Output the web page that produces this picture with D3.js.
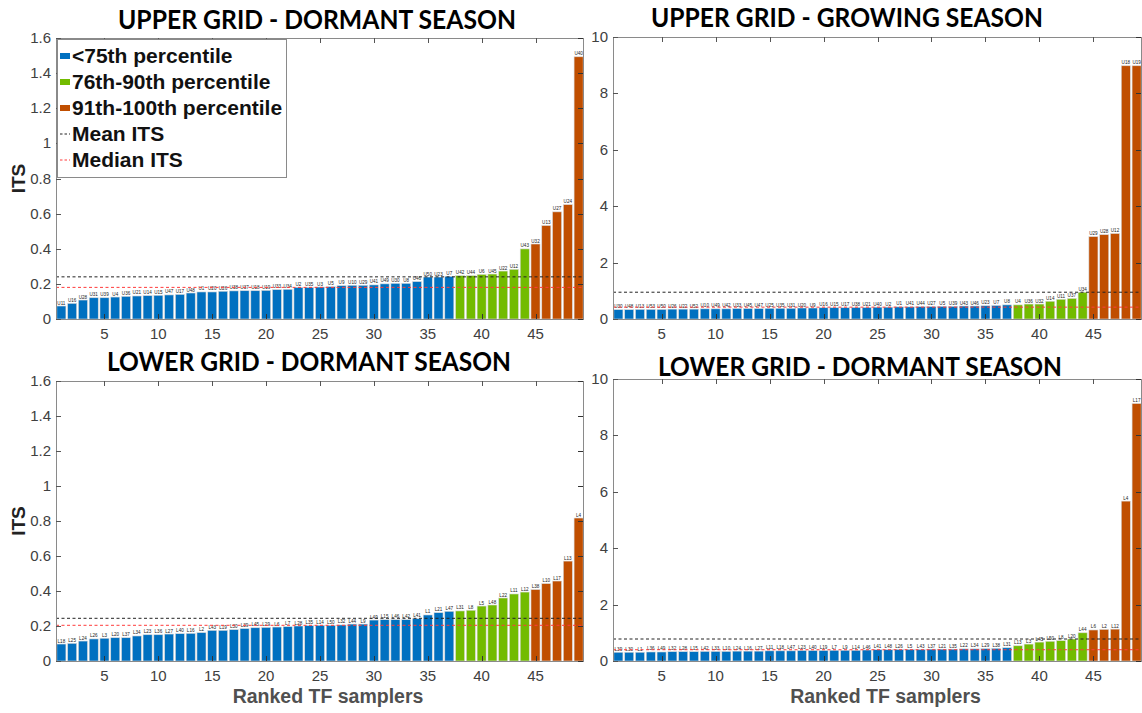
<!DOCTYPE html>
<html>
<head>
<meta charset="utf-8">
<script src="https://cdn.jsdelivr.net/npm/d3@7"></script>
<style>
  html, body { margin: 0; padding: 0; background: #fff; }
  svg { display: block; }
</style>
</head>
<body>
<svg id="chart" width="1142" height="713"></svg>
<script>
// ---- data ----------------------------------------------------------------
const ranks = d3.range(1, 50);               // ranked sampler positions 1..49
const xTickValues = [5, 10, 15, 20, 25, 30, 35, 40, 45];

const tierNames  = ["<75th percentile", "76th-90th percentile", "91th-100th percentile"];
const tierColors = ["#0070C0", "#72BB00", "#C04E00"];
const tierSizes  = [37, 7, 5];               // samplers per percentile class

const panelTitles = [
  "UPPER GRID - DORMANT SEASON",
  "UPPER GRID - GROWING SEASON",
  "LOWER GRID - DORMANT SEASON",
  "LOWER GRID - DORMANT SEASON"
];

const yTicksLeft  = [0, 0.2, 0.4, 0.6, 0.8, 1, 1.2, 1.4, 1.6];
const yTicksRight = [0, 2, 4, 6, 8, 10];

// Upper grid, dormant season
const upperDormantLabels = ["U11","U16","U28","U31","U39","U4","U36","U21","U14","U15",
  "U47","U17","U48","U1","U20","U26","U38","U37","U18","U19",
  "U33","U34","U2","U35","U3","U5","U9","U10","U29","U41",
  "U49","U30","U8","U46","U50","U23","U7","U42","U44","U6",
  "U45","U22","U12","U43","U32","U13","U27","U24","U40"];
const upperDormantITS = [0.074,0.089,0.108,0.121,0.121,0.125,0.129,0.131,0.133,0.135,
  0.137,0.140,0.148,0.154,0.154,0.158,0.160,0.161,0.161,0.163,
  0.167,0.169,0.180,0.180,0.182,0.184,0.190,0.192,0.192,0.194,
  0.200,0.203,0.203,0.213,0.239,0.239,0.243,0.247,0.247,0.254,
  0.256,0.273,0.283,0.399,0.427,0.532,0.610,0.651,1.493];
const upperDormantMean = 0.240;
const upperDormantMedian = 0.180;

// Upper grid, growing season
const upperGrowingLabels = ["U30","U48","U13","U53","U50","U26","U22","U52","U10","U49",
  "U42","U33","U45","U47","U25","U35","U31","U20","U9","U16",
  "U15","U17","U38","U21","U40","U2","U1","U41","U44","U27",
  "U5","U39","U43","U46","U23","U7","U8","U4","U36","U32",
  "U14","U11","U37","U34","U29","U28","U12","U18","U19"];
const upperGrowingITS = [0.33,0.33,0.34,0.34,0.34,0.35,0.35,0.35,0.36,0.36,
  0.36,0.37,0.37,0.37,0.38,0.38,0.38,0.39,0.39,0.40,
  0.40,0.40,0.41,0.41,0.42,0.42,0.43,0.43,0.44,0.44,
  0.45,0.45,0.46,0.46,0.47,0.48,0.50,0.50,0.53,0.53,
  0.63,0.70,0.73,0.95,2.92,2.99,3.03,8.98,8.98];
const upperGrowingMean = 0.95;
const upperGrowingMedian = 0.42;

// Lower grid, dormant season (left)
const lowerDormantLabels = ["L18","L25","L24","L26","L3","L20","L37","L34","L23","L36",
  "L27","L40","L16","L2","L43","L19","L30","L39","L45","L29",
  "L6","L7","L28","L35","L14","L50","L32","L44","L9","L49",
  "L15","L46","L42","L41","L1","L21","L47","L31","L8","L5",
  "L48","L22","L11","L12","L38","L10","L17","L13","L4"];
const lowerDormantITS = [0.097,0.101,0.114,0.126,0.130,0.133,0.133,0.143,0.150,0.150,
  0.154,0.156,0.158,0.162,0.175,0.175,0.179,0.185,0.190,0.192,
  0.194,0.196,0.200,0.202,0.204,0.204,0.206,0.211,0.211,0.234,
  0.236,0.236,0.236,0.242,0.263,0.276,0.284,0.286,0.290,0.314,
  0.320,0.360,0.383,0.394,0.408,0.442,0.457,0.571,0.817];
const lowerDormantMean = 0.244;
const lowerDormantMedian = 0.204;

// Lower grid, dormant season (right)
const lowerDormant2Labels = ["L39","L30","L1","L36","L49","L32","L28","L15","L42","L33",
  "L10","L24","L16","L27","L11","L18","L47","L23","L40","L19",
  "L7","L9","L14","L46","L41","L48","L26","L5","L43","L37",
  "L21","L35","L22","L34","L29","L38","L31","L13","L3","L45",
  "L50","L8","L20","L44","L6","L2","L12","L4","L17"];
const lowerDormant2ITS = [0.31,0.31,0.31,0.32,0.32,0.33,0.33,0.33,0.34,0.34,
  0.34,0.35,0.35,0.35,0.36,0.36,0.36,0.37,0.37,0.37,
  0.38,0.38,0.38,0.39,0.40,0.40,0.41,0.41,0.41,0.42,
  0.42,0.42,0.43,0.43,0.44,0.45,0.47,0.54,0.60,0.67,
  0.70,0.72,0.78,1.00,1.10,1.12,1.13,5.67,9.13];
const lowerDormant2Mean = 0.78;
const lowerDormant2Median = 0.40;

// ---- drawing -------------------------------------------------------------
const svg = d3.select("#chart");
const tickFont = "'Liberation Sans', Arial, sans-serif";

function tierOf(rank) {
  let acc = 0;
  for (let t = 0; t < tierSizes.length; t++) {
    acc += tierSizes[t];
    if (rank <= acc) return t;
  }
  return tierSizes.length - 1;
}

function drawPanel(opt) {
  const { left, right, top, bottom, yMax, yTicks, values, labels, mean, median,
          title, titleX, titleY, titleW, xLabel, yLabel } = opt;

  const x = d3.scaleLinear().domain([0.5, 49.5]).range([left, right]);
  const y = d3.scaleLinear().domain([0, yMax]).range([bottom, top]);
  const g = svg.append("g");
  const unit = x(2) - x(1);
  const bw = unit * 0.84;

  // bars
  g.selectAll("rect.bar").data(ranks).enter().append("rect")
    .attr("class", "bar")
    .attr("x", r => x(r) - bw / 2)
    .attr("width", bw)
    .attr("y", r => y(values[r - 1]))
    .attr("height", r => y(0) - y(values[r - 1]))
    .attr("fill", r => tierColors[tierOf(r)])
    .attr("stroke", "#d9d9d9")
    .attr("stroke-width", 0.6);

  // sampler ids above bars
  g.selectAll("text.bl").data(ranks).enter().append("text")
    .attr("class", "bl")
    .attr("x", r => x(r))
    .attr("y", r => y(values[r - 1]) - 1.5)
    .attr("text-anchor", "middle")
    .attr("font-family", tickFont)
    .attr("font-size", 4.6)
    .attr("fill", "#222")
    .text(r => labels[r - 1]);

  // mean / median lines
  g.append("line")
    .attr("x1", left).attr("x2", right)
    .attr("y1", y(mean)).attr("y2", y(mean))
    .attr("stroke", "#222").attr("stroke-width", 1)
    .attr("stroke-dasharray", "3,2.5");
  g.append("line")
    .attr("x1", left).attr("x2", right)
    .attr("y1", y(median)).attr("y2", y(median))
    .attr("stroke", "#ff3b3b").attr("stroke-width", 1)
    .attr("stroke-dasharray", "3,2.5");

  // frame
  g.append("rect")
    .attr("x", left + 0.5).attr("y", top + 0.5)
    .attr("width", right - left - 1).attr("height", bottom - top)
    .attr("fill", "none").attr("stroke", "#8a8a8a").attr("stroke-width", 1);

  // inward tick marks (x bottom/top, y left/right)
  const tl = 5;
  xTickValues.forEach(v => {
    const px = Math.round(x(v)) + 0.5;
    g.append("line").attr("x1", px).attr("x2", px)
      .attr("y1", bottom).attr("y2", bottom - tl)
      .attr("stroke", "#333").attr("stroke-width", 1);
    g.append("line").attr("x1", px).attr("x2", px)
      .attr("y1", top).attr("y2", top + tl)
      .attr("stroke", "#555").attr("stroke-width", 1);
  });
  yTicks.forEach(v => {
    const py = Math.round(y(v)) + 0.5;
    g.append("line").attr("x1", left).attr("x2", left + tl)
      .attr("y1", py).attr("y2", py)
      .attr("stroke", "#555").attr("stroke-width", 1);
    g.append("line").attr("x1", right - 1).attr("x2", right - 1 - tl)
      .attr("y1", py).attr("y2", py)
      .attr("stroke", "#333").attr("stroke-width", 1);
  });

  // tick labels
  g.selectAll("text.yt").data(yTicks).enter().append("text")
    .attr("class", "yt")
    .attr("x", left - 5)
    .attr("y", v => y(v) + 5)
    .attr("text-anchor", "end")
    .attr("font-family", tickFont)
    .attr("font-size", 15)
    .attr("fill", "#404040")
    .text(v => String(v));
  g.selectAll("text.xt").data(xTickValues).enter().append("text")
    .attr("class", "xt")
    .attr("x", v => x(v))
    .attr("y", bottom + 20)
    .attr("text-anchor", "middle")
    .attr("font-family", tickFont)
    .attr("font-size", 15)
    .attr("fill", "#404040")
    .text(v => String(v));

  // title
  svg.append("text")
    .attr("x", titleX).attr("y", titleY)
    .attr("text-anchor", "middle")
    .attr("font-family", "Lato, 'Open Sans', sans-serif")
    .attr("font-weight", 700)
    .attr("font-size", 26)
    .attr("fill", "#000")
    .attr("textLength", titleW)
    .attr("lengthAdjust", "spacingAndGlyphs")
    .text(title);

  if (xLabel) {
    svg.append("text")
      .attr("x", (left + right) / 2 + 8).attr("y", bottom + 42)
      .attr("text-anchor", "middle")
      .attr("font-family", tickFont)
      .attr("font-weight", 700)
      .attr("font-size", 19.5)
      .attr("fill", "#505050")
      .text(xLabel);
  }
  if (yLabel) {
    svg.append("text")
      .attr("transform", `translate(25,${(top + bottom) / 2}) rotate(-90)`)
      .attr("text-anchor", "middle")
      .attr("font-family", tickFont)
      .attr("font-weight", 700)
      .attr("font-size", 19)
      .attr("fill", "#222")
      .text(yLabel);
  }
  return { x, y };
}

drawPanel({ left: 56, right: 584, top: 38, bottom: 319, yMax: 1.6, yTicks: yTicksLeft,
  values: upperDormantITS, labels: upperDormantLabels,
  mean: upperDormantMean, median: upperDormantMedian,
  title: panelTitles[0], titleX: 317, titleY: 29, titleW: 398, yLabel: "ITS" });

drawPanel({ left: 613, right: 1142, top: 37, bottom: 319, yMax: 10, yTicks: yTicksRight,
  values: upperGrowingITS, labels: upperGrowingLabels,
  mean: upperGrowingMean, median: upperGrowingMedian,
  title: panelTitles[1], titleX: 847, titleY: 27, titleW: 392 });

drawPanel({ left: 56, right: 584, top: 381, bottom: 661, yMax: 1.6, yTicks: yTicksLeft,
  values: lowerDormantITS, labels: lowerDormantLabels,
  mean: lowerDormantMean, median: lowerDormantMedian,
  title: panelTitles[2], titleX: 309, titleY: 371, titleW: 404,
  xLabel: "Ranked TF samplers", yLabel: "ITS" });

drawPanel({ left: 613, right: 1142, top: 379, bottom: 661, yMax: 10, yTicks: yTicksRight,
  values: lowerDormant2ITS, labels: lowerDormant2Labels,
  mean: lowerDormant2Mean, median: lowerDormant2Median,
  title: panelTitles[3], titleX: 860, titleY: 376, titleW: 404,
  xLabel: "Ranked TF samplers" });

// ---- legend (upper-left panel) --------------------------------------------
const legendItems = [
  { name: tierNames[0], kind: "bar", color: tierColors[0] },
  { name: tierNames[1], kind: "bar", color: tierColors[1] },
  { name: tierNames[2], kind: "bar", color: tierColors[2] },
  { name: "Mean ITS", kind: "line", color: "#222" },
  { name: "Median ITS", kind: "line", color: "#ff3b3b" }
];
const lg = svg.append("g");
lg.append("rect")
  .attr("x", 57.5).attr("y", 39.5).attr("width", 229).attr("height", 138)
  .attr("fill", "#fff").attr("stroke", "#8a8a8a").attr("stroke-width", 1);
legendItems.forEach((d, i) => {
  const cy = 56 + i * 26;
  if (d.kind === "bar") {
    lg.append("rect").attr("x", 60).attr("y", cy - 3).attr("width", 10).attr("height", 6)
      .attr("fill", d.color);
  } else {
    lg.append("line").attr("x1", 60).attr("x2", 70).attr("y1", cy).attr("y2", cy)
      .attr("stroke", d.color).attr("stroke-width", 1).attr("stroke-dasharray", "2.5,2");
  }
  lg.append("text")
    .attr("x", 72).attr("y", cy + 7)
    .attr("font-family", tickFont)
    .attr("font-weight", 700)
    .attr("font-size", 21)
    .attr("fill", "#111")
    .text(d.name);
});
</script>
</body>
</html>
